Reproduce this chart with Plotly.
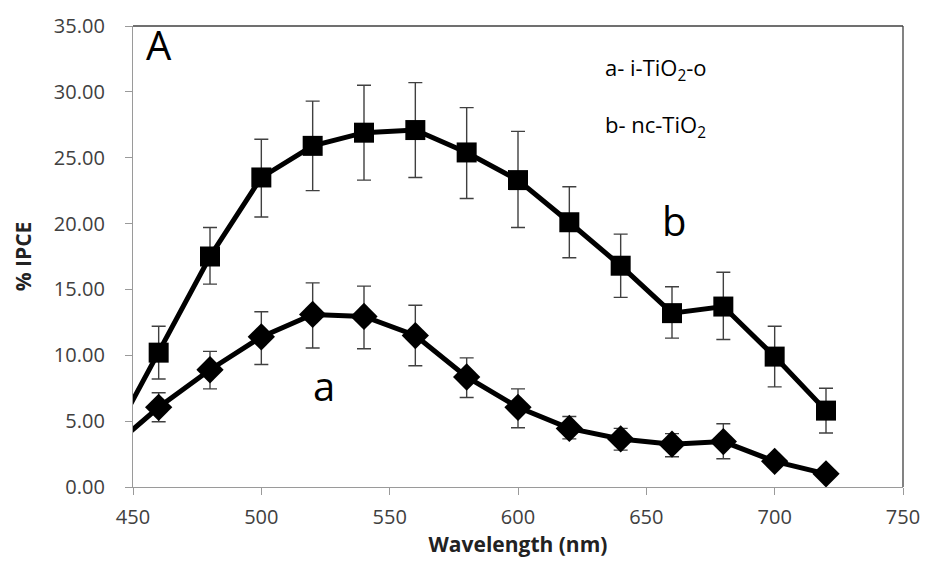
import plotly.graph_objects as go

wavelength = [440, 460, 480, 500, 520, 540, 560, 580, 600, 620, 640, 660, 680, 700, 720]

# series b: nc-TiO2 (squares)
ipce_b = [3.0, 10.2, 17.5, 23.5, 25.9, 26.9, 27.1, 25.4, 23.3, 20.1, 16.8, 13.2, 13.7, 9.9, 5.8]
err_b_plus = [1.0, 2.0, 2.2, 2.9, 3.4, 3.6, 3.6, 3.4, 3.7, 2.7, 2.4, 2.0, 2.6, 2.3, 1.7]
err_b_minus = [1.0, 2.0, 2.1, 3.0, 3.4, 3.6, 3.6, 3.5, 3.6, 2.7, 2.4, 1.9, 2.5, 2.3, 1.7]

# series a: i-TiO2-o (diamonds)
ipce_a = [2.7, 6.05, 8.9, 11.4, 13.1, 12.95, 11.5, 8.35, 6.05, 4.45, 3.65, 3.25, 3.45, 1.95, 1.0]
err_a_plus = [0.5, 1.1, 1.4, 1.9, 2.4, 2.3, 2.3, 1.45, 1.4, 0.9, 0.8, 0.8, 1.35, 0.4, 0.2]
err_a_minus = [0.5, 1.1, 1.45, 2.1, 2.55, 2.45, 2.3, 1.55, 1.55, 0.8, 0.85, 0.95, 1.3, 0.4, 0.2]

x_ticks = [450, 500, 550, 600, 650, 700, 750]
y_ticks = [0, 5, 10, 15, 20, 25, 30, 35]

font_family = "Open Sans, Lato, Liberation Sans, sans-serif"
tick_color = "#404040"
err_color = "#404040"

fig = go.Figure()

fig.add_trace(go.Scatter(
    x=wavelength, y=ipce_b, mode="lines+markers",
    line=dict(color="black", width=5),
    marker=dict(symbol="square", size=20, color="black"),
    error_y=dict(type="data", symmetric=False, array=err_b_plus, arrayminus=err_b_minus,
                 color=err_color, thickness=1.4, width=7),
    showlegend=False,
))

fig.add_trace(go.Scatter(
    x=wavelength, y=ipce_a, mode="lines+markers",
    line=dict(color="black", width=5),
    marker=dict(symbol="diamond", size=21, color="black"),
    error_y=dict(type="data", symmetric=False, array=err_a_plus, arrayminus=err_a_minus,
                 color=err_color, thickness=1.4, width=7),
    showlegend=False,
))

fig.update_layout(
    width=932, height=561,
    margin=dict(l=133, r=25, t=18, b=72),
    paper_bgcolor="white", plot_bgcolor="white",
    font=dict(family=font_family, color=tick_color, size=20),
    xaxis=dict(
        range=[450, 750], tickvals=x_ticks, ticktext=[str(v) for v in x_ticks],
        showgrid=False, zeroline=False,
        showline=True, linecolor="#9a9a9a", linewidth=1.3,
        ticks="outside", ticklen=7, tickcolor="#9a9a9a", tickwidth=1.3,
        tickfont=dict(size=20, color=tick_color), ticklabelstandoff=5,
        title=dict(text="<b>Wavelength (nm)</b>", font=dict(size=21, color="#222222"), standoff=4),
    ),
    yaxis=dict(
        range=[0, 35], tickvals=y_ticks, ticktext=[f"{v:.2f}" for v in y_ticks],
        showgrid=False, zeroline=False,
        showline=True, linecolor="#9a9a9a", linewidth=1.3,
        ticks="outside", ticklen=7, tickcolor="#9a9a9a", tickwidth=1.3,
        tickfont=dict(size=20, color=tick_color), ticklabelstandoff=16,
        title=dict(text="<b>% IPCE</b>", font=dict(size=21, color="#222222"), standoff=16),
    ),
)

# darker top and right frame lines
fig.add_shape(type="line", xref="paper", yref="paper", x0=0, x1=1, y0=1, y1=1,
              line=dict(color="#404040", width=1.3))
fig.add_shape(type="line", xref="paper", yref="paper", x0=1, x1=1, y0=0, y1=1,
              line=dict(color="#404040", width=1.3))

annotations = [
    dict(x=0.0336, y=0.96, text="A", size=40),
    dict(x=0.61, y=0.907, text="a- i-TiO<sub>2</sub>-o", size=22),
    dict(x=0.61, y=0.784, text="b- nc-TiO<sub>2</sub>", size=22),
    dict(x=0.702, y=0.578, text="b", size=40),
    dict(x=0.248, y=0.22, text="a", size=40),
]
for i, a in enumerate(annotations):
    fig.add_annotation(x=a["x"], y=a["y"], xref="paper", yref="paper", text=a["text"],
                       showarrow=False,
                       xanchor="left" if i in (1, 2) else "center", yanchor="middle",
                       font=dict(size=a["size"], color="black", family=font_family))

fig.write_html("out.html")
